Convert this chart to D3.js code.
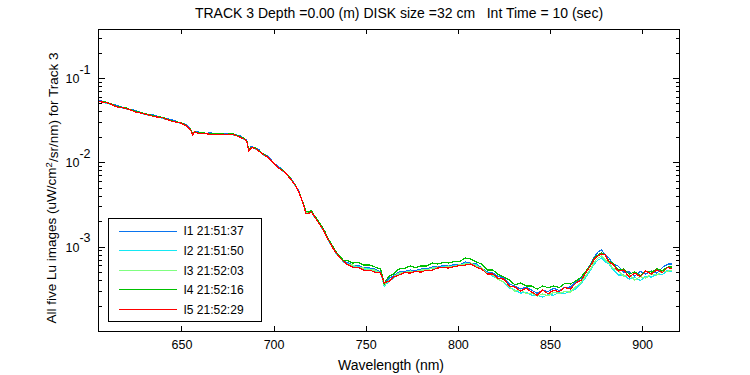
<!DOCTYPE html>
<html>
<head>
<meta charset="utf-8">
<script src="https://cdn.jsdelivr.net/npm/d3@7"></script>
<style>
  body { margin: 0; background: #fff; }
  svg { display: block; font-family: "Liberation Sans", Arial, Helvetica, sans-serif; }
</style>
</head>
<body>
<svg id="chart" width="750" height="375"></svg>
<script>
// wavelength (nm) shared by all five images
const wavelengths = [
  605, 610, 615, 620, 625, 630, 635, 640, 645, 650,
  653, 655, 656, 657, 659, 662, 666, 670, 674, 678,
  682, 684, 685.5, 686.5, 688, 690, 692, 694, 697, 700,
  703, 706, 709, 712, 714, 716, 717.5, 719, 720.5, 722,
  724, 726, 728, 730, 732, 734, 736, 738,
  740, 743, 746, 749, 752, 755, 758, 759, 760, 761,
  763, 765, 768, 771, 774, 777, 780, 783, 786, 789,
  792, 795, 798, 801, 804, 807, 810, 813, 816, 819,
  822, 825, 828, 831, 834, 837, 840, 843, 846, 849,
  852, 855, 858, 861, 864, 867, 870, 872, 874, 876,
  878, 880, 882, 884, 887, 890, 893, 896, 899, 902,
  905, 908, 911, 914, 916
];

const lu1 = [
  0.0548, 0.0505, 0.0472, 0.0435, 0.0412, 0.0374, 0.0364, 0.0335, 0.0318, 0.0290,
  0.0278, 0.0242, 0.0220, 0.0229, 0.0230, 0.0220, 0.0223, 0.0215, 0.0221, 0.0214,
  0.0206, 0.0189, 0.0182, 0.0142, 0.0155, 0.0146, 0.0142, 0.0125, 0.0119, 0.00981,
  0.00880, 0.00767, 0.00669, 0.00524, 0.00444, 0.00327, 0.00264, 0.00250, 0.00268, 0.00231,
  0.00207, 0.00171, 0.00149, 0.00117, 0.00102, 0.000839, 0.000764, 0.000666,
  6.48e-4, 6.05e-4, 5.96e-4, 5.57e-4, 5.57e-4, 5.43e-4, 5.00e-4, 4.48e-4, 3.57e-4, 3.91e-4,
  4.25e-4, 4.48e-4, 5.00e-4, 5.07e-4, 5.28e-4, 5.21e-4, 5.43e-4, 5.42e-4, 5.73e-4, 5.73e-4,
  5.96e-4, 5.89e-4, 6.14e-4, 6.13e-4, 6.57e-4, 6.39e-4, 6.22e-4, 5.57e-4, 5.00e-4, 4.86e-4,
  4.42e-4, 4.25e-4, 3.60e-4, 3.41e-4, 3.14e-4, 3.32e-4, 3.05e-4, 2.81e-4, 3.05e-4, 2.93e-4,
  3.22e-4, 3.02e-4, 3.28e-4, 3.32e-4, 3.81e-4, 4.25e-4, 5.29e-4, 6.23e-4, 7.54e-4, 8.64e-4,
  9.13e-4, 7.96e-4, 7.34e-4, 6.22e-4, 5.89e-4, 5.00e-4, 5.00e-4, 4.48e-4, 5.07e-4, 4.73e-4,
  5.14e-4, 4.87e-4, 5.66e-4, 6.22e-4, 6.22e-4
];

const lu2 = [
  0.0533, 0.0497, 0.0459, 0.0428, 0.0401, 0.0368, 0.0354, 0.0330, 0.0309, 0.0286,
  0.0270, 0.0238, 0.0217, 0.0226, 0.0224, 0.0217, 0.0217, 0.0212, 0.0215, 0.0211,
  0.0200, 0.0186, 0.0179, 0.0138, 0.0151, 0.0144, 0.0138, 0.0123, 0.01156, 0.00966,
  0.00856, 0.00755, 0.00651, 0.00516, 0.00432, 0.00322, 0.00257, 0.00246, 0.00261, 0.00228,
  0.00201, 0.00168, 0.00145, 0.00115, 0.000989, 0.000826, 0.000743, 0.000656,
  6.30e-4, 5.89e-4, 5.80e-4, 5.42e-4, 5.42e-4, 5.14e-4, 4.87e-4, 4.24e-4, 3.38e-4, 3.60e-4,
  3.91e-4, 4.24e-4, 4.73e-4, 4.93e-4, 5.14e-4, 5.07e-4, 5.28e-4, 5.27e-4, 5.57e-4, 5.58e-4,
  5.80e-4, 5.73e-4, 5.97e-4, 5.96e-4, 6.39e-4, 6.22e-4, 6.05e-4, 5.42e-4, 4.87e-4, 4.47e-4,
  4.07e-4, 3.80e-4, 3.23e-4, 3.06e-4, 2.81e-4, 2.89e-4, 2.66e-4, 2.66e-4, 2.52e-4, 2.70e-4,
  2.66e-4, 2.86e-4, 2.78e-4, 2.97e-4, 3.14e-4, 3.70e-4, 4.48e-4, 5.28e-4, 6.22e-4, 6.92e-4,
  7.32e-4, 6.56e-4, 6.22e-4, 5.42e-4, 4.60e-4, 4.61e-4, 4.12e-4, 4.35e-4, 3.95e-4, 4.47e-4,
  4.35e-4, 4.73e-4, 4.67e-4, 5.27e-4, 4.99e-4
];

const lu3 = [
  0.0533, 0.0505, 0.0459, 0.0435, 0.0401, 0.0374, 0.0354, 0.0335, 0.0309, 0.0290,
  0.0270, 0.0242, 0.0217, 0.0229, 0.0224, 0.0220, 0.0217, 0.0215, 0.0215, 0.0214,
  0.0200, 0.0189, 0.0179, 0.0140, 0.0151, 0.0146, 0.0138, 0.0125, 0.01156, 0.00981,
  0.00856, 0.00767, 0.00651, 0.00524, 0.00432, 0.00327, 0.00257, 0.00250, 0.00261, 0.00231,
  0.00201, 0.00171, 0.00145, 0.00117, 0.000989, 0.000839, 0.000743, 0.000666,
  6.13e-4, 6.05e-4, 5.64e-4, 5.57e-4, 5.27e-4, 5.28e-4, 4.87e-4, 4.36e-4, 3.47e-4, 3.70e-4,
  4.02e-4, 4.36e-4, 4.86e-4, 4.93e-4, 5.14e-4, 5.07e-4, 5.28e-4, 5.27e-4, 5.57e-4, 5.73e-4,
  5.64e-4, 5.89e-4, 5.81e-4, 6.13e-4, 6.22e-4, 6.39e-4, 5.89e-4, 5.57e-4, 4.73e-4, 4.60e-4,
  4.07e-4, 3.80e-4, 3.32e-4, 2.97e-4, 3.06e-4, 2.81e-4, 2.81e-4, 2.59e-4, 2.74e-4, 2.62e-4,
  2.89e-4, 2.78e-4, 2.94e-4, 2.89e-4, 3.32e-4, 3.80e-4, 4.73e-4, 5.42e-4, 6.57e-4, 7.32e-4,
  7.73e-4, 6.94e-4, 6.39e-4, 5.57e-4, 5.13e-4, 4.48e-4, 4.60e-4, 4.01e-4, 4.41e-4, 4.24e-4,
  4.73e-4, 4.61e-4, 5.07e-4, 5.13e-4, 5.27e-4
];

const lu4 = [
  0.0533, 0.0512, 0.0459, 0.0441, 0.0401, 0.0379, 0.0354, 0.0340, 0.0309, 0.0294,
  0.0270, 0.0245, 0.0217, 0.0232, 0.0224, 0.0223, 0.0217, 0.0218, 0.0215, 0.0217,
  0.0200, 0.0192, 0.0179, 0.0142, 0.0151, 0.0148, 0.0138, 0.0127, 0.01156, 0.00995,
  0.00856, 0.00778, 0.00651, 0.00531, 0.00432, 0.00332, 0.00264, 0.00257, 0.00268, 0.00237,
  0.00207, 0.00176, 0.00149, 0.00120, 0.00102, 0.000862, 0.000764, 0.000685,
  6.85e-4, 6.39e-4, 6.48e-4, 6.05e-4, 6.05e-4, 5.74e-4, 5.44e-4, 4.61e-4, 3.57e-4, 4.02e-4,
  4.49e-4, 4.74e-4, 5.43e-4, 5.51e-4, 5.90e-4, 5.66e-4, 5.90e-4, 5.89e-4, 6.39e-4, 6.23e-4,
  6.48e-4, 6.40e-4, 6.67e-4, 6.66e-4, 7.34e-4, 7.14e-4, 6.58e-4, 6.22e-4, 5.29e-4, 5.28e-4,
  4.67e-4, 4.37e-4, 4.02e-4, 3.51e-4, 3.71e-4, 3.41e-4, 3.41e-4, 3.14e-4, 3.41e-4, 3.27e-4,
  3.41e-4, 3.28e-4, 3.66e-4, 3.61e-4, 3.91e-4, 4.37e-4, 5.29e-4, 6.05e-4, 7.34e-4, 7.95e-4,
  8.40e-4, 7.96e-4, 6.75e-4, 6.39e-4, 5.27e-4, 5.44e-4, 4.73e-4, 5.00e-4, 4.53e-4, 5.14e-4,
  5.00e-4, 5.44e-4, 5.21e-4, 5.73e-4, 5.73e-4
];

const lu5 = [
  0.0526, 0.0505, 0.0453, 0.0435, 0.0395, 0.0374, 0.0349, 0.0335, 0.0305, 0.0290,
  0.0266, 0.0242, 0.0210, 0.0229, 0.0221, 0.0220, 0.0214, 0.0215, 0.0212, 0.0214,
  0.0197, 0.0189, 0.0176, 0.0136, 0.0149, 0.0146, 0.0136, 0.0125, 0.0114, 0.00981,
  0.00844, 0.00767, 0.00642, 0.00524, 0.00426, 0.00327, 0.00250, 0.00246, 0.00257, 0.00231,
  0.00198, 0.00171, 0.00143, 0.00117, 0.000975, 0.000839, 0.000733, 0.000666,
  6.13e-4, 5.72e-4, 5.64e-4, 5.27e-4, 5.27e-4, 4.99e-4, 4.87e-4, 4.36e-4, 3.67e-4, 3.80e-4,
  3.91e-4, 4.36e-4, 4.60e-4, 4.93e-4, 4.86e-4, 5.07e-4, 4.99e-4, 5.27e-4, 5.27e-4, 5.58e-4,
  5.64e-4, 5.57e-4, 5.81e-4, 5.96e-4, 6.04e-4, 6.22e-4, 5.72e-4, 5.42e-4, 4.73e-4, 4.73e-4,
  4.18e-4, 4.13e-4, 3.41e-4, 3.32e-4, 2.97e-4, 3.23e-4, 2.89e-4, 2.66e-4, 3.05e-4, 2.77e-4,
  3.05e-4, 2.93e-4, 3.28e-4, 3.14e-4, 3.70e-4, 4.02e-4, 5.14e-4, 5.89e-4, 7.13e-4, 7.74e-4,
  8.17e-4, 7.96e-4, 6.57e-4, 6.22e-4, 5.13e-4, 5.29e-4, 4.36e-4, 4.86e-4, 4.41e-4, 5.14e-4,
  4.73e-4, 5.29e-4, 4.93e-4, 5.73e-4, 5.42e-4
];

const seriesNames = ['I1 21:51:37', 'I2 21:51:50', 'I3 21:52:03', 'I4 21:52:16', 'I5 21:52:29'];
const seriesValues = [lu1, lu2, lu3, lu4, lu5];
const seriesColors = ['#0a74ee', '#14e8f4', '#80ff80', '#00c000', '#ff0000'];

const xTicks = [650, 700, 750, 800, 850, 900];
const yMajorTicks = [1e-3, 1e-2, 1e-1];
const yDecades = [1e-4, 1e-3, 1e-2, 1e-1];
const minorSteps = [2, 3, 4, 5, 6, 7, 8, 9];
const xDomain = [605, 920];
const yDomain = [1e-4, 0.38];

const titleText = 'TRACK 3 Depth =0.00 (m) DISK size =32 cm   Int Time = 10 (sec)';
const xLabel = 'Wavelength (nm)';

// plot box
const plot = { left: 98.5, right: 679, top: 29, bottom: 331 };

const svg = d3.select('#chart');

svg.append('rect')
  .attr('width', 750)
  .attr('height', 375)
  .attr('fill', '#fff');

const x = d3.scaleLinear().domain(xDomain).range([plot.left, plot.right]);
const y = d3.scaleLog().domain(yDomain).range([plot.bottom, plot.top]);

const yMinor = [];
yDecades.forEach(d => minorSteps.forEach(k => {
  const v = d * k;
  if (v > yDomain[0] && v < yDomain[1]) yMinor.push(v);
}));

const tickFont = '12.5px';

// Axes (MATLAB style: ticks pointing inward on all sides)
function styleAxis(g) {
  g.select('.domain').remove();
  g.selectAll('line').attr('stroke', '#000').attr('shape-rendering', 'crispEdges');
  g.selectAll('text').attr('fill', '#000').style('font-size', tickFont);
}

svg.append('g')
  .attr('transform', `translate(0,${plot.bottom})`)
  .call(d3.axisBottom(x).tickValues(xTicks).tickSize(-5).tickPadding(9).tickFormat(d3.format('d')))
  .call(styleAxis);

svg.append('g')
  .attr('transform', `translate(0,${plot.top})`)
  .call(d3.axisTop(x).tickValues(xTicks).tickSize(-5).tickFormat(''))
  .call(styleAxis);

const yLeft = svg.append('g')
  .attr('transform', `translate(${plot.left},0)`)
  .call(d3.axisLeft(y).tickValues(yMajorTicks).tickSize(-6).tickPadding(8)
    .tickFormat(() => '10'))
  .call(styleAxis);

yLeft.selectAll('.tick text')
  .attr('dy', '0.36em')
  .append('tspan')
  .attr('dy', '-0.75em')
  .text(d => Math.round(Math.log10(d)));

svg.append('g')
  .attr('transform', `translate(${plot.left},0)`)
  .call(d3.axisLeft(y).tickValues(yMinor).tickSize(-3).tickFormat(''))
  .call(styleAxis);

svg.append('g')
  .attr('transform', `translate(${plot.right},0)`)
  .call(d3.axisRight(y).tickValues(yMajorTicks).tickSize(-6).tickFormat(''))
  .call(styleAxis);

svg.append('g')
  .attr('transform', `translate(${plot.right},0)`)
  .call(d3.axisRight(y).tickValues(yMinor).tickSize(-3).tickFormat(''))
  .call(styleAxis);

// Clip lines to the plot box
svg.append('clipPath')
  .attr('id', 'plot-clip')
  .append('rect')
  .attr('x', plot.left)
  .attr('y', plot.top)
  .attr('width', plot.right - plot.left)
  .attr('height', plot.bottom - plot.top);

const line = d3.line()
  .x((d, i) => x(wavelengths[i]))
  .y(d => y(d));

svg.append('g')
  .attr('clip-path', 'url(#plot-clip)')
  .selectAll('path')
  .data(seriesValues)
  .enter()
  .append('path')
  .attr('fill', 'none')
  .attr('stroke', (d, i) => seriesColors[i])
  .attr('stroke-width', 1.2)
  .attr('shape-rendering', 'crispEdges')
  .attr('d', line);

// Frame
svg.append('rect')
  .attr('x', plot.left)
  .attr('y', plot.top)
  .attr('width', plot.right - plot.left)
  .attr('height', plot.bottom - plot.top)
  .attr('fill', 'none')
  .attr('stroke', '#000')
  .attr('shape-rendering', 'crispEdges');

// Title
svg.append('text')
  .attr('x', 399)
  .attr('y', 18)
  .attr('text-anchor', 'middle')
  .style('font-size', '14px')
  .style('white-space', 'pre')
  .text(titleText);

// X label
svg.append('text')
  .attr('x', 391)
  .attr('y', 370)
  .attr('text-anchor', 'middle')
  .style('font-size', '14px')
  .text(xLabel);

// Y label with superscript
const yLab = svg.append('text')
  .attr('transform', `translate(56,188) rotate(-90)`)
  .attr('text-anchor', 'middle')
  .style('font-size', '13.5px');
yLab.append('tspan').text('All five Lu images (uW/cm');
yLab.append('tspan').attr('dy', '-0.45em').style('font-size', '9.5px').text('2');
yLab.append('tspan').attr('dy', '0.45em').text('/sr/nm) for Track 3');

// Legend
const legend = svg.append('g').attr('transform', 'translate(108.5,218.5)');
legend.append('rect')
  .attr('width', 153)
  .attr('height', 102.5)
  .attr('fill', '#fff')
  .attr('stroke', '#000')
  .attr('shape-rendering', 'crispEdges');

const rows = legend.selectAll('.row')
  .data(seriesNames)
  .enter()
  .append('g')
  .attr('class', 'row')
  .attr('transform', (d, i) => `translate(0,${12.5 + i * 19.6})`);

rows.append('line')
  .attr('x1', 10.5)
  .attr('x2', 68)
  .attr('stroke', (d, i) => seriesColors[i])
  .attr('shape-rendering', 'crispEdges');

rows.append('text')
  .attr('x', 75)
  .attr('dy', '0.36em')
  .style('font-size', '12px')
  .text(d => d);
</script>
</body>
</html>
